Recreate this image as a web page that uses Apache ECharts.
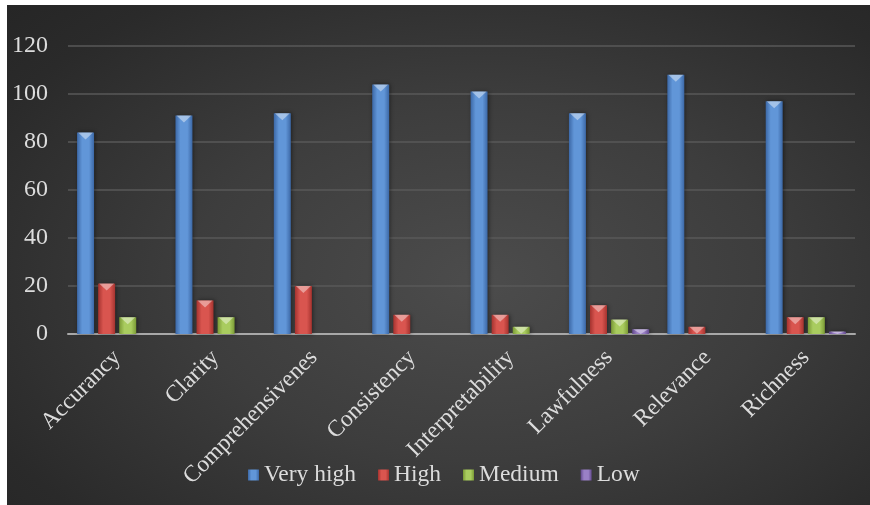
<!DOCTYPE html>
<html>
<head>
<meta charset="utf-8">
<script src="https://cdn.jsdelivr.net/npm/echarts@6/dist/echarts.min.js"></script>
<style>
  html, body { margin: 0; padding: 0; background: #ffffff; }
  #panel {
    position: absolute; left: 7px; top: 5px; width: 863px; height: 500px;
    background: radial-gradient(ellipse 75% 80% at 55% 55%, #4c4c4c 0%, #3d3d3d 45%, #2a2a2a 85%, #262626 100%);
  }
  #chart { width: 863px; height: 500px; }
</style>
</head>
<body>
<div id="panel"><div id="chart"></div></div>
<script>
// Quality ratings per dimension
const categories = ['Accurancy', 'Clarity', 'Comprehensivenes', 'Consistency',
  'Interpretability', 'Lawfulness', 'Relevance', 'Richness'];
const veryHigh = [84, 91, 92, 104, 101, 92, 108, 97];
const high     = [21, 14, 20, 8, 8, 12, 3, 7];
const medium   = [7, 7, 0, 0, 3, 6, 0, 7];
const low      = [0, 0, 0, 0, 0, 2, 0, 1];
const yTicks   = { min: 0, max: 120, interval: 20 };

const seriesDefs = [
  { name: 'Very high', data: veryHigh, edge: '#3c68a6', mid: '#6196d8' },
  { name: 'High',      data: high,     edge: '#a5332f', mid: '#d9554f' },
  { name: 'Medium',    data: medium,   edge: '#7a9a35', mid: '#a9cc5f' },
  { name: 'Low',       data: low,      edge: '#634a8e', mid: '#9a80c6' }
];

const font = 'Liberation Serif';
const textColor = '#dcdcdc';
const BAR_W = 17, GAP = '24%';

function hGrad(edge, mid) {
  return new echarts.graphic.LinearGradient(0, 0, 1, 0, [
    { offset: 0, color: edge },
    { offset: 0.3, color: mid },
    { offset: 0.7, color: mid },
    { offset: 1, color: edge }
  ]);
}

const series = [];
seriesDefs.forEach(d => {
  series.push({
    name: d.name,
    type: 'bar',
    data: d.data,
    barWidth: BAR_W,
    barGap: GAP,
    itemStyle: {
      color: hGrad(d.edge, d.mid),
      shadowColor: 'rgba(0,0,0,0.45)',
      shadowBlur: 4,
      shadowOffsetX: 1
    }
  });
});
// bevelled caps on top of each bar
seriesDefs.forEach(d => {
  series.push({
    name: d.name + ' cap',
    type: 'pictorialBar',
    barWidth: BAR_W,
    barGap: GAP,
    symbol: 'path://M0,0 L10,0 L5,6 Z',
    symbolPosition: 'end',
    symbolOffset: [0, 0],
    z: 3,
    silent: true,
    itemStyle: { color: 'rgba(255,255,255,0.42)' },
    data: d.data.map(v => ({
      value: v,
      symbolSize: v > 0 ? [BAR_W - 2, Math.min(7, v * 2.4)] : [0, 0]
    }))
  });
});

const chart = echarts.init(document.getElementById('chart'), null, { renderer: 'canvas' });
chart.setOption({
  animation: false,
  backgroundColor: 'transparent',
  grid: { left: 61, right: 15, top: 41, bottom: 171 },
  legend: {
    data: seriesDefs.map(d => ({
      name: d.name,
      itemStyle: { color: hGrad(d.edge, d.mid) }
    })),
    left: 236,
    top: 453,
    icon: 'rect',
    itemWidth: 11,
    itemHeight: 11,
    itemGap: 22,
    textStyle: { color: textColor, fontFamily: font, fontSize: 23.5 }
  },
  xAxis: {
    type: 'category',
    data: categories,
    axisLine: { lineStyle: { color: '#a8a8a8', width: 2 } },
    axisTick: { show: false },
    axisLabel: {
      rotate: 45,
      interval: 0,
      margin: 20,
      color: textColor,
      fontFamily: font,
      fontSize: 23.5
    }
  },
  yAxis: {
    type: 'value',
    min: yTicks.min,
    max: yTicks.max,
    interval: yTicks.interval,
    axisLine: { show: false },
    axisTick: { show: false },
    splitLine: { lineStyle: { color: '#585858', width: 1.5 } },
    axisLabel: { color: textColor, fontFamily: font, fontSize: 24, margin: 20 }
  },
  series: series
});
</script>
</body>
</html>
